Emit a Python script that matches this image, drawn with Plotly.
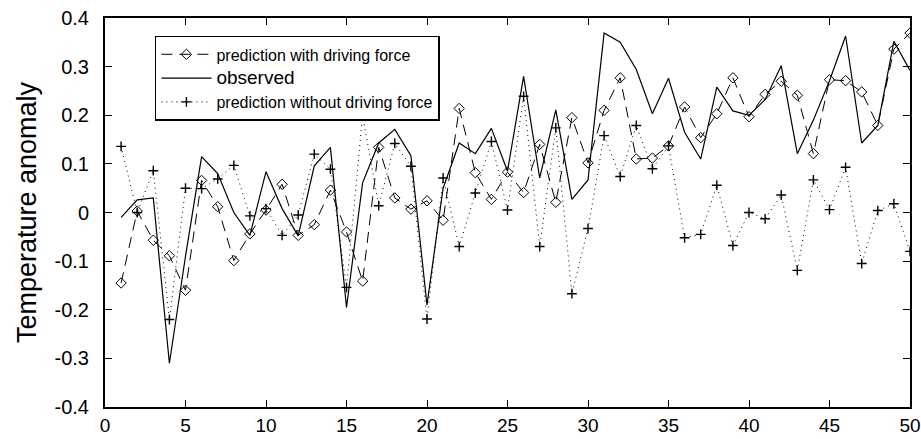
import plotly.graph_objects as go

x_index = list(range(1, 51))

observed = [-0.01, 0.026, 0.03, -0.31, -0.09, 0.115, 0.08, 0.0, -0.047, 0.084,
            0.008, -0.048, 0.096, 0.134, -0.195, 0.061, 0.143, 0.171, 0.117, -0.19,
            0.05, 0.143, 0.121, 0.173, 0.085, 0.28, 0.071, 0.211, 0.027, 0.067,
            0.369, 0.35, 0.294, 0.203, 0.276, 0.165, 0.11, 0.258, 0.209, 0.2,
            0.232, 0.302, 0.121, 0.19, 0.271, 0.363, 0.143, 0.179, 0.352, 0.292]

pred_with = [-0.145, 0.003, -0.057, -0.089, -0.16, 0.066, 0.012, -0.099, -0.044, 0.005,
             0.058, -0.047, -0.025, 0.046, -0.04, -0.141, 0.134, 0.03, 0.007, 0.024,
             -0.016, 0.214, 0.082, 0.027, 0.083, 0.041, 0.14, 0.021, 0.195, 0.102,
             0.21, 0.277, 0.11, 0.112, 0.137, 0.217, 0.154, 0.203, 0.277, 0.197,
             0.243, 0.27, 0.241, 0.121, 0.273, 0.271, 0.248, 0.179, 0.336, 0.369]

pred_without = [0.136, 0.0, 0.086, -0.22, 0.05, 0.049, 0.069, 0.097, -0.007, 0.008,
                -0.047, -0.005, 0.12, 0.089, -0.154, 0.2, 0.014, 0.142, 0.095, -0.219,
                0.071, -0.07, 0.04, 0.146, 0.005, 0.239, -0.07, 0.174, -0.167, -0.033,
                0.158, 0.074, 0.179, 0.09, 0.137, -0.052, -0.045, 0.056, -0.068, 0.0,
                -0.013, 0.036, -0.119, 0.067, 0.006, 0.093, -0.105, 0.004, 0.018, -0.08]

x_ticks = [0, 5, 10, 15, 20, 25, 30, 35, 40, 45, 50]
y_ticks = [-0.4, -0.3, -0.2, -0.1, 0, 0.1, 0.2, 0.3, 0.4]
y_ticktext = ["-0.4", "-0.3", "-0.2", "-0.1", "0", "0.1", "0.2", "0.3", "0.4"]

names = ["prediction with driving force",
         "<span style='font-size:19px'>observed</span>",
         "prediction without driving force"]

fig = go.Figure()
fig.add_trace(go.Scatter(
    x=x_index, y=pred_with, mode="lines+markers", name=names[0],
    line=dict(color="black", width=1, dash="11px,7px"),
    marker=dict(symbol="diamond-open", size=8, color="black", line=dict(width=1, color="black")),
))
fig.add_trace(go.Scatter(
    x=x_index, y=observed, mode="lines", name=names[1],
    line=dict(color="black", width=1.2),
))
fig.add_trace(go.Scatter(
    x=x_index, y=pred_without, mode="lines+markers", name=names[2],
    line=dict(color="black", width=1, dash="1px,4px"),
    marker=dict(symbol="cross-thin", size=7, color="black", line=dict(width=1.4, color="black")),
))

axis_font = dict(family="Liberation Sans, Arial", size=20, color="black")
x_font = dict(family="Liberation Sans, Arial", size=19, color="black")

fig.update_layout(
    width=921, height=439,
    margin=dict(l=105, r=11, t=18, b=32),
    paper_bgcolor="white", plot_bgcolor="white",
    showlegend=True,
    legend=dict(
        x=0.062, y=0.954, xanchor="left", yanchor="top",
        bordercolor="black", borderwidth=1.5, bgcolor="white",
        font=dict(family="Liberation Sans, Arial", size=16, color="black"),
        itemwidth=50, tracegroupgap=0,
    ),
    xaxis=dict(
        range=[0, 50], tickmode="array", tickvals=x_ticks,
        ticks="inside", ticklen=7, tickwidth=1, tickcolor="black",
        showline=True, linecolor="black", linewidth=2, mirror="ticks",
        showgrid=False, zeroline=False, tickfont=x_font,
        ticklabelstandoff=0, automargin=False, ticklabeloverflow="allow",
    ),
    yaxis=dict(
        range=[-0.4, 0.4], tickmode="array", tickvals=y_ticks, ticktext=y_ticktext,
        ticks="inside", ticklen=7, tickwidth=1, tickcolor="black",
        showline=True, linecolor="black", linewidth=2, mirror="ticks",
        showgrid=False, zeroline=False, tickfont=axis_font,
        ticklabelstandoff=10, automargin=False, ticklabeloverflow="allow",
        title=dict(text="Temperature anomaly", standoff=10,
                   font=dict(family="Liberation Sans, Arial", size=27, color="black")),
    ),
)

fig.write_html("out.html")
